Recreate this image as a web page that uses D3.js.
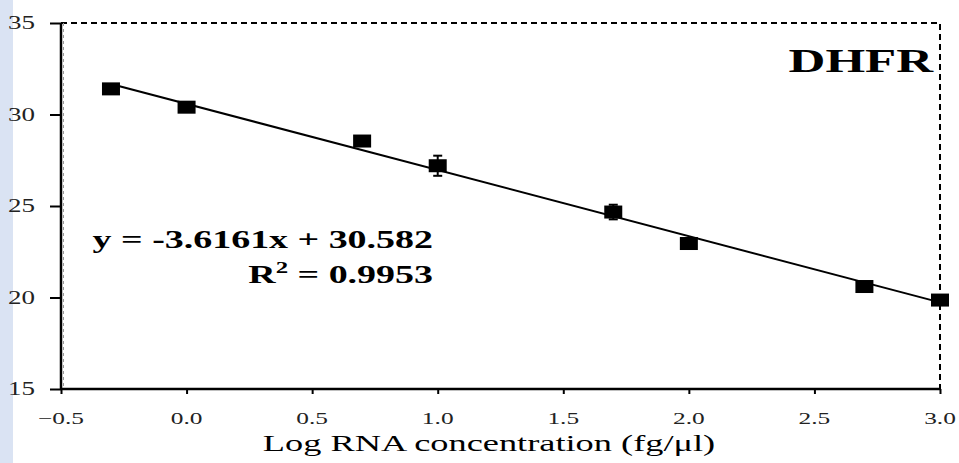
<!DOCTYPE html>
<meta charset="utf-8">
<script src="https://d3js.org/d3.v7.min.js"></script>
<style>
  body { margin: 0; background: #fff; }
  text { font-family: "Liberation Serif", "Times New Roman", serif; }
</style>
<div id="chart"></div>
<script>

// data
var logConc = [-0.301, 0, 0.699, 1.0, 1.699, 2.0, 2.699, 3.0]
var ctMean  = [31.4, 30.4, 28.55, 27.2, 24.67, 22.95, 20.6, 19.86]
var ctErr   = [0.1, 0.15, 0.15, 0.55, 0.4, 0.3, 0.15, 0.1]
var xTicks  = [-0.5, 0, 0.5, 1, 1.5, 2, 2.5, 3]
var yTicks  = [15, 20, 25, 30, 35]
var slope = -3.6161, intercept = 30.582

var width = 959, height = 463
var margin = {left: 61, right: 19, top: 23, bottom: 74}
var sx = 1.5   // the picture is stretched sideways

var svg = d3.select("#chart").append("svg")
    .attr("width", width)
    .attr("height", height)

// light blue strip on the left edge
svg.append("rect").attr("x", 0).attr("y", 0).attr("width", 13).attr("height", height)
    .attr("fill", "#dae3f3")

var x = d3.scaleLinear().domain([-0.5, 3]).range([margin.left, width - margin.right])
var y = d3.scaleLinear().domain([15, 35]).range([height - margin.bottom, margin.top])

// helper for the wide text
function wideText(g, px, py, str, anchor, size, weight, k) {
  return g.append("text")
    .attr("transform", "translate(" + px + "," + py + ") scale(" + k + ",1)")
    .attr("text-anchor", anchor)
    .style("font-size", size + "px")
    .style("font-weight", weight)
    .attr("fill", "#000")
    .text(str)
}

// dashed frame (top and right)
svg.append("path")
    .attr("d", "M" + x(-0.5) + "," + y(35) + "H" + x(3) + "V" + y(15))
    .attr("fill", "none").attr("stroke", "#000").attr("stroke-width", 2)
    .attr("stroke-dasharray", "6,4")
svg.append("line")
    .attr("x1", x(-0.5) + 2.5).attr("x2", x(-0.5) + 2.5)
    .attr("y1", y(35)).attr("y2", y(15))
    .attr("stroke", "#999").attr("stroke-width", 1).attr("stroke-dasharray", "3,3")

// axes
var yAxis = svg.append("g").attr("transform", "translate(" + x(-0.5) + ",0)")
    .call(d3.axisLeft(y).tickValues(yTicks).tickSize(11).tickFormat(""))
var xAxis = svg.append("g").attr("transform", "translate(0," + y(15) + ")")
    .call(d3.axisBottom(x).tickValues(xTicks).tickSize(5).tickFormat(""))
svg.selectAll(".domain").attr("stroke", "#000").attr("stroke-width", 2.5)
yAxis.select(".domain").attr("d", "M0," + y(35) + "V" + y(15))
xAxis.select(".domain").attr("d", "M" + x(-0.5) + ",0H" + x(3))
svg.selectAll(".tick line").attr("stroke", "#000").attr("stroke-width", 2)

// tick labels
yTicks.forEach(function(v) {
  wideText(svg, 35, y(v) + 6, v, "end", 18, "normal", sx).attr("fill", "#222")
})
xTicks.forEach(function(v) {
  wideText(svg, x(v), 424, d3.format(".1f")(v), "middle", 17.5, "normal", 1.45).attr("fill", "#222")
})

// axis title
wideText(svg, 489, 451, "Log RNA concentration (fg/\u03bcl)", "middle", 23, "normal", 1.58)

// regression line
var fit = d3.line().x(function(d) { return x(d) }).y(function(d) { return y(slope * d + intercept) })
svg.append("path").datum([logConc[0], logConc[logConc.length - 1]])
    .attr("d", fit).attr("fill", "none").attr("stroke", "#000").attr("stroke-width", 2)

// error bars
var pts = logConc.map(function(v, i) { return {x: v, y: ctMean[i], e: ctErr[i]} })
var eb = svg.append("g").selectAll("g").data(pts).enter().append("g")
eb.append("line")
    .attr("x1", function(d) { return x(d.x) }).attr("x2", function(d) { return x(d.x) })
    .attr("y1", function(d) { return y(d.y + d.e) }).attr("y2", function(d) { return y(d.y - d.e) })
    .attr("stroke", "#000").attr("stroke-width", 2)
eb.selectAll(".cap").data(function(d) { return [[d.x, d.y + d.e], [d.x, d.y - d.e]] })
  .enter().append("line")
    .attr("x1", function(d) { return x(d[0]) - 4.5 }).attr("x2", function(d) { return x(d[0]) + 4.5 })
    .attr("y1", function(d) { return y(d[1]) }).attr("y2", function(d) { return y(d[1]) })
    .attr("stroke", "#000").attr("stroke-width", 2)

// square markers
svg.append("g").selectAll("rect").data(pts).enter().append("rect")
    .attr("x", function(d) { return x(d.x) - 9 })
    .attr("y", function(d) { return y(d.y) - 6.5 })
    .attr("width", 18).attr("height", 13)
    .attr("fill", "#000")

// equation (right edge at x = 433)
wideText(svg, 433, 248, "y = -3.6161x + 30.582", "end", 26, "bold", 1.46)
var r2 = svg.append("text")
    .attr("transform", "translate(433,283) scale(1.46,1)")
    .attr("text-anchor", "end")
    .style("font-size", "26px").style("font-weight", "bold")
r2.append("tspan").text("R")
r2.append("tspan").attr("dy", -10).style("font-size", "17px").text("2")
r2.append("tspan").attr("dy", 10).text(" = 0.9953")

// gene label
wideText(svg, 933, 72, "DHFR", "end", 34, "bold", sx)

</script>
